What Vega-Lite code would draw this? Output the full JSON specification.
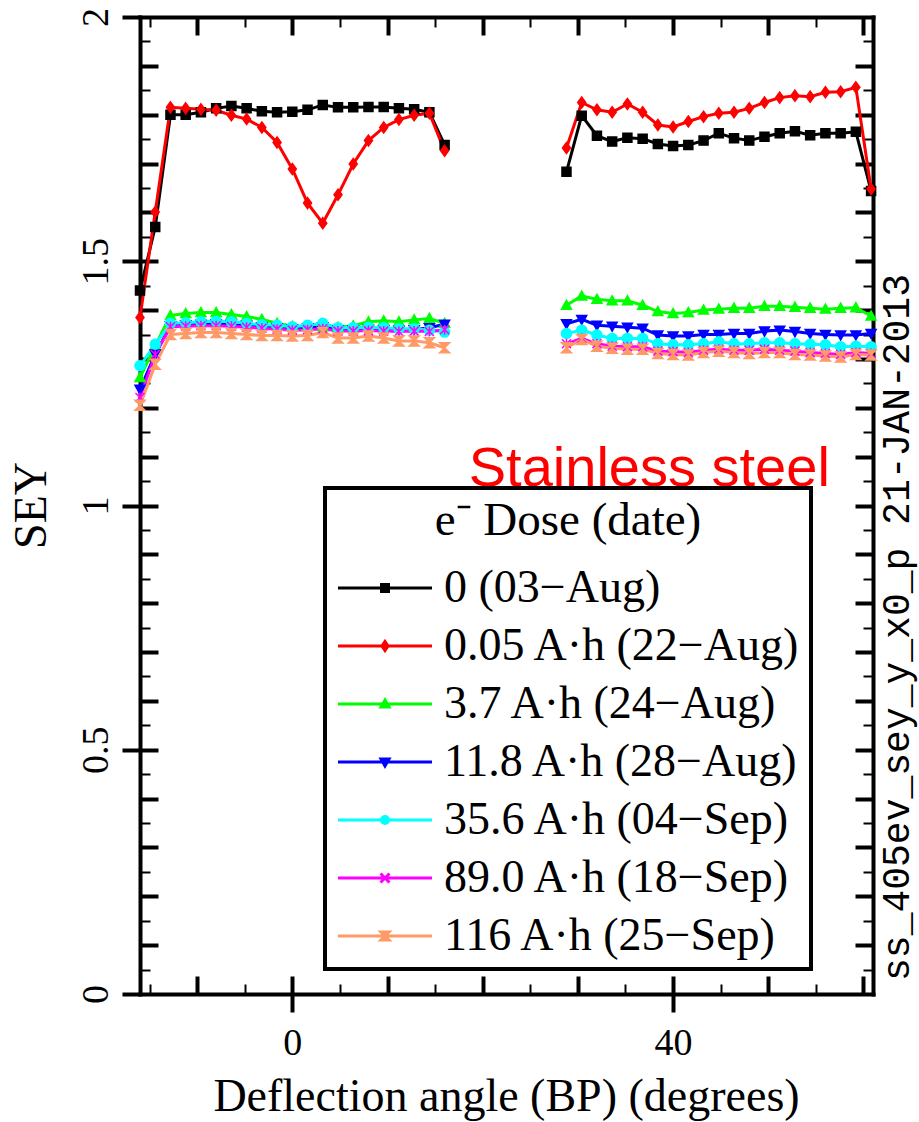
{
  "$schema": "https://vega.github.io/schema/vega-lite/v6.json",
  "width": 733,
  "height": 977,
  "autosize": {"type": "none"},
  "padding": {"left": 140, "top": 17, "right": 46, "bottom": 128},
  "background": "white",
  "config": {
    "view": {"stroke": null},
    "axis": {
      "grid": false,
      "domainColor": "black",
      "domainWidth": 4,
      "domainCap": "square",
      "tickColor": "black",
      "tickWidth": 4,
      "labelColor": "black",
      "titleColor": "black",
      "labelFont": "Liberation Serif",
      "titleFont": "Liberation Serif",
      "titleFontWeight": "normal",
      "labelFlush": false,
      "labelOverlap": false
    },
    "legend": {"strokeWidth": 4}
  },
  "data": {
    "values": [
      {"s":"0 (03−Aug)","g":"L","x":-16,"y":1.44},{"s":"0 (03−Aug)","g":"L","x":-14.4,"y":1.57},{"s":"0 (03−Aug)","g":"L","x":-12.8,"y":1.8},{"s":"0 (03−Aug)","g":"L","x":-11.2,"y":1.8},{"s":"0 (03−Aug)","g":"L","x":-9.6,"y":1.805},{"s":"0 (03−Aug)","g":"L","x":-8,"y":1.813},{"s":"0 (03−Aug)","g":"L","x":-6.4,"y":1.818},{"s":"0 (03−Aug)","g":"L","x":-4.8,"y":1.813},{"s":"0 (03−Aug)","g":"L","x":-3.2,"y":1.807},{"s":"0 (03−Aug)","g":"L","x":-1.6,"y":1.805},{"s":"0 (03−Aug)","g":"L","x":0,"y":1.806},{"s":"0 (03−Aug)","g":"L","x":1.6,"y":1.81},{"s":"0 (03−Aug)","g":"L","x":3.2,"y":1.82},{"s":"0 (03−Aug)","g":"L","x":4.8,"y":1.815},{"s":"0 (03−Aug)","g":"L","x":6.4,"y":1.815},{"s":"0 (03−Aug)","g":"L","x":8,"y":1.816},{"s":"0 (03−Aug)","g":"L","x":9.6,"y":1.816},{"s":"0 (03−Aug)","g":"L","x":11.2,"y":1.813},{"s":"0 (03−Aug)","g":"L","x":12.8,"y":1.811},{"s":"0 (03−Aug)","g":"L","x":14.4,"y":1.805},{"s":"0 (03−Aug)","g":"L","x":16,"y":1.738},
      {"s":"0 (03−Aug)","g":"R","x":28.8,"y":1.683},{"s":"0 (03−Aug)","g":"R","x":30.4,"y":1.798},{"s":"0 (03−Aug)","g":"R","x":32,"y":1.757},{"s":"0 (03−Aug)","g":"R","x":33.6,"y":1.745},{"s":"0 (03−Aug)","g":"R","x":35.2,"y":1.753},{"s":"0 (03−Aug)","g":"R","x":36.8,"y":1.751},{"s":"0 (03−Aug)","g":"R","x":38.4,"y":1.74},{"s":"0 (03−Aug)","g":"R","x":40,"y":1.736},{"s":"0 (03−Aug)","g":"R","x":41.6,"y":1.738},{"s":"0 (03−Aug)","g":"R","x":43.2,"y":1.747},{"s":"0 (03−Aug)","g":"R","x":44.8,"y":1.762},{"s":"0 (03−Aug)","g":"R","x":46.4,"y":1.752},{"s":"0 (03−Aug)","g":"R","x":48,"y":1.747},{"s":"0 (03−Aug)","g":"R","x":49.6,"y":1.755},{"s":"0 (03−Aug)","g":"R","x":51.2,"y":1.762},{"s":"0 (03−Aug)","g":"R","x":52.8,"y":1.766},{"s":"0 (03−Aug)","g":"R","x":54.4,"y":1.758},{"s":"0 (03−Aug)","g":"R","x":56,"y":1.762},{"s":"0 (03−Aug)","g":"R","x":57.6,"y":1.762},{"s":"0 (03−Aug)","g":"R","x":59.2,"y":1.765},{"s":"0 (03−Aug)","g":"R","x":60.8,"y":1.644},
      {"s":"0.05 A·h (22−Aug)","g":"L","x":-16,"y":1.385},{"s":"0.05 A·h (22−Aug)","g":"L","x":-14.4,"y":1.601},{"s":"0.05 A·h (22−Aug)","g":"L","x":-12.8,"y":1.815},{"s":"0.05 A·h (22−Aug)","g":"L","x":-11.2,"y":1.813},{"s":"0.05 A·h (22−Aug)","g":"L","x":-9.6,"y":1.811},{"s":"0.05 A·h (22−Aug)","g":"L","x":-8,"y":1.809},{"s":"0.05 A·h (22−Aug)","g":"L","x":-6.4,"y":1.799},{"s":"0.05 A·h (22−Aug)","g":"L","x":-4.8,"y":1.791},{"s":"0.05 A·h (22−Aug)","g":"L","x":-3.2,"y":1.774},{"s":"0.05 A·h (22−Aug)","g":"L","x":-1.6,"y":1.743},{"s":"0.05 A·h (22−Aug)","g":"L","x":0,"y":1.689},{"s":"0.05 A·h (22−Aug)","g":"L","x":1.6,"y":1.619},{"s":"0.05 A·h (22−Aug)","g":"L","x":3.2,"y":1.578},{"s":"0.05 A·h (22−Aug)","g":"L","x":4.8,"y":1.636},{"s":"0.05 A·h (22−Aug)","g":"L","x":6.4,"y":1.699},{"s":"0.05 A·h (22−Aug)","g":"L","x":8,"y":1.747},{"s":"0.05 A·h (22−Aug)","g":"L","x":9.6,"y":1.774},{"s":"0.05 A·h (22−Aug)","g":"L","x":11.2,"y":1.79},{"s":"0.05 A·h (22−Aug)","g":"L","x":12.8,"y":1.799},{"s":"0.05 A·h (22−Aug)","g":"L","x":14.4,"y":1.803},{"s":"0.05 A·h (22−Aug)","g":"L","x":16,"y":1.726},
      {"s":"0.05 A·h (22−Aug)","g":"R","x":28.8,"y":1.732},{"s":"0.05 A·h (22−Aug)","g":"R","x":30.4,"y":1.825},{"s":"0.05 A·h (22−Aug)","g":"R","x":32,"y":1.81},{"s":"0.05 A·h (22−Aug)","g":"R","x":33.6,"y":1.805},{"s":"0.05 A·h (22−Aug)","g":"R","x":35.2,"y":1.822},{"s":"0.05 A·h (22−Aug)","g":"R","x":36.8,"y":1.805},{"s":"0.05 A·h (22−Aug)","g":"R","x":38.4,"y":1.779},{"s":"0.05 A·h (22−Aug)","g":"R","x":40,"y":1.775},{"s":"0.05 A·h (22−Aug)","g":"R","x":41.6,"y":1.786},{"s":"0.05 A·h (22−Aug)","g":"R","x":43.2,"y":1.796},{"s":"0.05 A·h (22−Aug)","g":"R","x":44.8,"y":1.803},{"s":"0.05 A·h (22−Aug)","g":"R","x":46.4,"y":1.805},{"s":"0.05 A·h (22−Aug)","g":"R","x":48,"y":1.813},{"s":"0.05 A·h (22−Aug)","g":"R","x":49.6,"y":1.825},{"s":"0.05 A·h (22−Aug)","g":"R","x":51.2,"y":1.835},{"s":"0.05 A·h (22−Aug)","g":"R","x":52.8,"y":1.839},{"s":"0.05 A·h (22−Aug)","g":"R","x":54.4,"y":1.837},{"s":"0.05 A·h (22−Aug)","g":"R","x":56,"y":1.846},{"s":"0.05 A·h (22−Aug)","g":"R","x":57.6,"y":1.847},{"s":"0.05 A·h (22−Aug)","g":"R","x":59.2,"y":1.856},{"s":"0.05 A·h (22−Aug)","g":"R","x":60.8,"y":1.648},
      {"s":"3.7 A·h (24−Aug)","g":"L","x":-16,"y":1.262},{"s":"3.7 A·h (24−Aug)","g":"L","x":-14.4,"y":1.327},{"s":"3.7 A·h (24−Aug)","g":"L","x":-12.8,"y":1.389},{"s":"3.7 A·h (24−Aug)","g":"L","x":-11.2,"y":1.393},{"s":"3.7 A·h (24−Aug)","g":"L","x":-9.6,"y":1.395},{"s":"3.7 A·h (24−Aug)","g":"L","x":-8,"y":1.395},{"s":"3.7 A·h (24−Aug)","g":"L","x":-6.4,"y":1.391},{"s":"3.7 A·h (24−Aug)","g":"L","x":-4.8,"y":1.387},{"s":"3.7 A·h (24−Aug)","g":"L","x":-3.2,"y":1.381},{"s":"3.7 A·h (24−Aug)","g":"L","x":-1.6,"y":1.373},{"s":"3.7 A·h (24−Aug)","g":"L","x":0,"y":1.367},{"s":"3.7 A·h (24−Aug)","g":"L","x":1.6,"y":1.366},{"s":"3.7 A·h (24−Aug)","g":"L","x":3.2,"y":1.366},{"s":"3.7 A·h (24−Aug)","g":"L","x":4.8,"y":1.365},{"s":"3.7 A·h (24−Aug)","g":"L","x":6.4,"y":1.368},{"s":"3.7 A·h (24−Aug)","g":"L","x":8,"y":1.376},{"s":"3.7 A·h (24−Aug)","g":"L","x":9.6,"y":1.378},{"s":"3.7 A·h (24−Aug)","g":"L","x":11.2,"y":1.376},{"s":"3.7 A·h (24−Aug)","g":"L","x":12.8,"y":1.38},{"s":"3.7 A·h (24−Aug)","g":"L","x":14.4,"y":1.383},{"s":"3.7 A·h (24−Aug)","g":"L","x":16,"y":1.373},
      {"s":"3.7 A·h (24−Aug)","g":"R","x":28.8,"y":1.41},{"s":"3.7 A·h (24−Aug)","g":"R","x":30.4,"y":1.429},{"s":"3.7 A·h (24−Aug)","g":"R","x":32,"y":1.422},{"s":"3.7 A·h (24−Aug)","g":"R","x":33.6,"y":1.419},{"s":"3.7 A·h (24−Aug)","g":"R","x":35.2,"y":1.419},{"s":"3.7 A·h (24−Aug)","g":"R","x":36.8,"y":1.41},{"s":"3.7 A·h (24−Aug)","g":"R","x":38.4,"y":1.397},{"s":"3.7 A·h (24−Aug)","g":"R","x":40,"y":1.393},{"s":"3.7 A·h (24−Aug)","g":"R","x":41.6,"y":1.395},{"s":"3.7 A·h (24−Aug)","g":"R","x":43.2,"y":1.4},{"s":"3.7 A·h (24−Aug)","g":"R","x":44.8,"y":1.402},{"s":"3.7 A·h (24−Aug)","g":"R","x":46.4,"y":1.404},{"s":"3.7 A·h (24−Aug)","g":"R","x":48,"y":1.404},{"s":"3.7 A·h (24−Aug)","g":"R","x":49.6,"y":1.408},{"s":"3.7 A·h (24−Aug)","g":"R","x":51.2,"y":1.408},{"s":"3.7 A·h (24−Aug)","g":"R","x":52.8,"y":1.406},{"s":"3.7 A·h (24−Aug)","g":"R","x":54.4,"y":1.404},{"s":"3.7 A·h (24−Aug)","g":"R","x":56,"y":1.402},{"s":"3.7 A·h (24−Aug)","g":"R","x":57.6,"y":1.404},{"s":"3.7 A·h (24−Aug)","g":"R","x":59.2,"y":1.405},{"s":"3.7 A·h (24−Aug)","g":"R","x":60.8,"y":1.388},
      {"s":"11.8 A·h (28−Aug)","g":"L","x":-16,"y":1.238},{"s":"11.8 A·h (28−Aug)","g":"L","x":-14.4,"y":1.31},{"s":"11.8 A·h (28−Aug)","g":"L","x":-12.8,"y":1.368},{"s":"11.8 A·h (28−Aug)","g":"L","x":-11.2,"y":1.37},{"s":"11.8 A·h (28−Aug)","g":"L","x":-9.6,"y":1.371},{"s":"11.8 A·h (28−Aug)","g":"L","x":-8,"y":1.372},{"s":"11.8 A·h (28−Aug)","g":"L","x":-6.4,"y":1.371},{"s":"11.8 A·h (28−Aug)","g":"L","x":-4.8,"y":1.369},{"s":"11.8 A·h (28−Aug)","g":"L","x":-3.2,"y":1.366},{"s":"11.8 A·h (28−Aug)","g":"L","x":-1.6,"y":1.364},{"s":"11.8 A·h (28−Aug)","g":"L","x":0,"y":1.362},{"s":"11.8 A·h (28−Aug)","g":"L","x":1.6,"y":1.364},{"s":"11.8 A·h (28−Aug)","g":"L","x":3.2,"y":1.366},{"s":"11.8 A·h (28−Aug)","g":"L","x":4.8,"y":1.36},{"s":"11.8 A·h (28−Aug)","g":"L","x":6.4,"y":1.36},{"s":"11.8 A·h (28−Aug)","g":"L","x":8,"y":1.361},{"s":"11.8 A·h (28−Aug)","g":"L","x":9.6,"y":1.36},{"s":"11.8 A·h (28−Aug)","g":"L","x":11.2,"y":1.359},{"s":"11.8 A·h (28−Aug)","g":"L","x":12.8,"y":1.36},{"s":"11.8 A·h (28−Aug)","g":"L","x":14.4,"y":1.364},{"s":"11.8 A·h (28−Aug)","g":"L","x":16,"y":1.371},
      {"s":"11.8 A·h (28−Aug)","g":"R","x":28.8,"y":1.372},{"s":"11.8 A·h (28−Aug)","g":"R","x":30.4,"y":1.381},{"s":"11.8 A·h (28−Aug)","g":"R","x":32,"y":1.369},{"s":"11.8 A·h (28−Aug)","g":"R","x":33.6,"y":1.367},{"s":"11.8 A·h (28−Aug)","g":"R","x":35.2,"y":1.365},{"s":"11.8 A·h (28−Aug)","g":"R","x":36.8,"y":1.363},{"s":"11.8 A·h (28−Aug)","g":"R","x":38.4,"y":1.349},{"s":"11.8 A·h (28−Aug)","g":"R","x":40,"y":1.347},{"s":"11.8 A·h (28−Aug)","g":"R","x":41.6,"y":1.347},{"s":"11.8 A·h (28−Aug)","g":"R","x":43.2,"y":1.35},{"s":"11.8 A·h (28−Aug)","g":"R","x":44.8,"y":1.35},{"s":"11.8 A·h (28−Aug)","g":"R","x":46.4,"y":1.352},{"s":"11.8 A·h (28−Aug)","g":"R","x":48,"y":1.352},{"s":"11.8 A·h (28−Aug)","g":"R","x":49.6,"y":1.357},{"s":"11.8 A·h (28−Aug)","g":"R","x":51.2,"y":1.359},{"s":"11.8 A·h (28−Aug)","g":"R","x":52.8,"y":1.356},{"s":"11.8 A·h (28−Aug)","g":"R","x":54.4,"y":1.352},{"s":"11.8 A·h (28−Aug)","g":"R","x":56,"y":1.35},{"s":"11.8 A·h (28−Aug)","g":"R","x":57.6,"y":1.349},{"s":"11.8 A·h (28−Aug)","g":"R","x":59.2,"y":1.349},{"s":"11.8 A·h (28−Aug)","g":"R","x":60.8,"y":1.352},
      {"s":"35.6 A·h (04−Sep)","g":"L","x":-16,"y":1.286},{"s":"35.6 A·h (04−Sep)","g":"L","x":-14.4,"y":1.33},{"s":"35.6 A·h (04−Sep)","g":"L","x":-12.8,"y":1.373},{"s":"35.6 A·h (04−Sep)","g":"L","x":-11.2,"y":1.374},{"s":"35.6 A·h (04−Sep)","g":"L","x":-9.6,"y":1.376},{"s":"35.6 A·h (04−Sep)","g":"L","x":-8,"y":1.377},{"s":"35.6 A·h (04−Sep)","g":"L","x":-6.4,"y":1.376},{"s":"35.6 A·h (04−Sep)","g":"L","x":-4.8,"y":1.373},{"s":"35.6 A·h (04−Sep)","g":"L","x":-3.2,"y":1.37},{"s":"35.6 A·h (04−Sep)","g":"L","x":-1.6,"y":1.369},{"s":"35.6 A·h (04−Sep)","g":"L","x":0,"y":1.366},{"s":"35.6 A·h (04−Sep)","g":"L","x":1.6,"y":1.369},{"s":"35.6 A·h (04−Sep)","g":"L","x":3.2,"y":1.373},{"s":"35.6 A·h (04−Sep)","g":"L","x":4.8,"y":1.364},{"s":"35.6 A·h (04−Sep)","g":"L","x":6.4,"y":1.364},{"s":"35.6 A·h (04−Sep)","g":"L","x":8,"y":1.365},{"s":"35.6 A·h (04−Sep)","g":"L","x":9.6,"y":1.364},{"s":"35.6 A·h (04−Sep)","g":"L","x":11.2,"y":1.362},{"s":"35.6 A·h (04−Sep)","g":"L","x":12.8,"y":1.362},{"s":"35.6 A·h (04−Sep)","g":"L","x":14.4,"y":1.359},{"s":"35.6 A·h (04−Sep)","g":"L","x":16,"y":1.355},
      {"s":"35.6 A·h (04−Sep)","g":"R","x":28.8,"y":1.352},{"s":"35.6 A·h (04−Sep)","g":"R","x":30.4,"y":1.359},{"s":"35.6 A·h (04−Sep)","g":"R","x":32,"y":1.349},{"s":"35.6 A·h (04−Sep)","g":"R","x":33.6,"y":1.342},{"s":"35.6 A·h (04−Sep)","g":"R","x":35.2,"y":1.342},{"s":"35.6 A·h (04−Sep)","g":"R","x":36.8,"y":1.342},{"s":"35.6 A·h (04−Sep)","g":"R","x":38.4,"y":1.331},{"s":"35.6 A·h (04−Sep)","g":"R","x":40,"y":1.329},{"s":"35.6 A·h (04−Sep)","g":"R","x":41.6,"y":1.329},{"s":"35.6 A·h (04−Sep)","g":"R","x":43.2,"y":1.331},{"s":"35.6 A·h (04−Sep)","g":"R","x":44.8,"y":1.335},{"s":"35.6 A·h (04−Sep)","g":"R","x":46.4,"y":1.331},{"s":"35.6 A·h (04−Sep)","g":"R","x":48,"y":1.331},{"s":"35.6 A·h (04−Sep)","g":"R","x":49.6,"y":1.333},{"s":"35.6 A·h (04−Sep)","g":"R","x":51.2,"y":1.333},{"s":"35.6 A·h (04−Sep)","g":"R","x":52.8,"y":1.331},{"s":"35.6 A·h (04−Sep)","g":"R","x":54.4,"y":1.33},{"s":"35.6 A·h (04−Sep)","g":"R","x":56,"y":1.329},{"s":"35.6 A·h (04−Sep)","g":"R","x":57.6,"y":1.325},{"s":"35.6 A·h (04−Sep)","g":"R","x":59.2,"y":1.326},{"s":"35.6 A·h (04−Sep)","g":"R","x":60.8,"y":1.325},
      {"s":"89.0 A·h (18−Sep)","g":"L","x":-16,"y":1.221},{"s":"89.0 A·h (18−Sep)","g":"L","x":-14.4,"y":1.309},{"s":"89.0 A·h (18−Sep)","g":"L","x":-12.8,"y":1.366},{"s":"89.0 A·h (18−Sep)","g":"L","x":-11.2,"y":1.367},{"s":"89.0 A·h (18−Sep)","g":"L","x":-9.6,"y":1.368},{"s":"89.0 A·h (18−Sep)","g":"L","x":-8,"y":1.368},{"s":"89.0 A·h (18−Sep)","g":"L","x":-6.4,"y":1.367},{"s":"89.0 A·h (18−Sep)","g":"L","x":-4.8,"y":1.365},{"s":"89.0 A·h (18−Sep)","g":"L","x":-3.2,"y":1.363},{"s":"89.0 A·h (18−Sep)","g":"L","x":-1.6,"y":1.361},{"s":"89.0 A·h (18−Sep)","g":"L","x":0,"y":1.359},{"s":"89.0 A·h (18−Sep)","g":"L","x":1.6,"y":1.36},{"s":"89.0 A·h (18−Sep)","g":"L","x":3.2,"y":1.362},{"s":"89.0 A·h (18−Sep)","g":"L","x":4.8,"y":1.357},{"s":"89.0 A·h (18−Sep)","g":"L","x":6.4,"y":1.357},{"s":"89.0 A·h (18−Sep)","g":"L","x":8,"y":1.358},{"s":"89.0 A·h (18−Sep)","g":"L","x":9.6,"y":1.357},{"s":"89.0 A·h (18−Sep)","g":"L","x":11.2,"y":1.356},{"s":"89.0 A·h (18−Sep)","g":"L","x":12.8,"y":1.357},{"s":"89.0 A·h (18−Sep)","g":"L","x":14.4,"y":1.356},{"s":"89.0 A·h (18−Sep)","g":"L","x":16,"y":1.36},
      {"s":"89.0 A·h (18−Sep)","g":"R","x":28.8,"y":1.331},{"s":"89.0 A·h (18−Sep)","g":"R","x":30.4,"y":1.342},{"s":"89.0 A·h (18−Sep)","g":"R","x":32,"y":1.331},{"s":"89.0 A·h (18−Sep)","g":"R","x":33.6,"y":1.326},{"s":"89.0 A·h (18−Sep)","g":"R","x":35.2,"y":1.325},{"s":"89.0 A·h (18−Sep)","g":"R","x":36.8,"y":1.325},{"s":"89.0 A·h (18−Sep)","g":"R","x":38.4,"y":1.316},{"s":"89.0 A·h (18−Sep)","g":"R","x":40,"y":1.315},{"s":"89.0 A·h (18−Sep)","g":"R","x":41.6,"y":1.313},{"s":"89.0 A·h (18−Sep)","g":"R","x":43.2,"y":1.318},{"s":"89.0 A·h (18−Sep)","g":"R","x":44.8,"y":1.32},{"s":"89.0 A·h (18−Sep)","g":"R","x":46.4,"y":1.318},{"s":"89.0 A·h (18−Sep)","g":"R","x":48,"y":1.318},{"s":"89.0 A·h (18−Sep)","g":"R","x":49.6,"y":1.32},{"s":"89.0 A·h (18−Sep)","g":"R","x":51.2,"y":1.318},{"s":"89.0 A·h (18−Sep)","g":"R","x":52.8,"y":1.316},{"s":"89.0 A·h (18−Sep)","g":"R","x":54.4,"y":1.313},{"s":"89.0 A·h (18−Sep)","g":"R","x":56,"y":1.311},{"s":"89.0 A·h (18−Sep)","g":"R","x":57.6,"y":1.309},{"s":"89.0 A·h (18−Sep)","g":"R","x":59.2,"y":1.313},{"s":"89.0 A·h (18−Sep)","g":"R","x":60.8,"y":1.311},
      {"s":"116 A·h (25−Sep)","g":"L","x":-16,"y":1.205},{"s":"116 A·h (25−Sep)","g":"L","x":-14.4,"y":1.289},{"s":"116 A·h (25−Sep)","g":"L","x":-12.8,"y":1.35},{"s":"116 A·h (25−Sep)","g":"L","x":-11.2,"y":1.352},{"s":"116 A·h (25−Sep)","g":"L","x":-9.6,"y":1.354},{"s":"116 A·h (25−Sep)","g":"L","x":-8,"y":1.354},{"s":"116 A·h (25−Sep)","g":"L","x":-6.4,"y":1.352},{"s":"116 A·h (25−Sep)","g":"L","x":-4.8,"y":1.35},{"s":"116 A·h (25−Sep)","g":"L","x":-3.2,"y":1.348},{"s":"116 A·h (25−Sep)","g":"L","x":-1.6,"y":1.348},{"s":"116 A·h (25−Sep)","g":"L","x":0,"y":1.347},{"s":"116 A·h (25−Sep)","g":"L","x":1.6,"y":1.348},{"s":"116 A·h (25−Sep)","g":"L","x":3.2,"y":1.354},{"s":"116 A·h (25−Sep)","g":"L","x":4.8,"y":1.343},{"s":"116 A·h (25−Sep)","g":"L","x":6.4,"y":1.343},{"s":"116 A·h (25−Sep)","g":"L","x":8,"y":1.347},{"s":"116 A·h (25−Sep)","g":"L","x":9.6,"y":1.343},{"s":"116 A·h (25−Sep)","g":"L","x":11.2,"y":1.337},{"s":"116 A·h (25−Sep)","g":"L","x":12.8,"y":1.337},{"s":"116 A·h (25−Sep)","g":"L","x":14.4,"y":1.333},{"s":"116 A·h (25−Sep)","g":"L","x":16,"y":1.323},
      {"s":"116 A·h (25−Sep)","g":"R","x":28.8,"y":1.323},{"s":"116 A·h (25−Sep)","g":"R","x":30.4,"y":1.34},{"s":"116 A·h (25−Sep)","g":"R","x":32,"y":1.326},{"s":"116 A·h (25−Sep)","g":"R","x":33.6,"y":1.322},{"s":"116 A·h (25−Sep)","g":"R","x":35.2,"y":1.32},{"s":"116 A·h (25−Sep)","g":"R","x":36.8,"y":1.32},{"s":"116 A·h (25−Sep)","g":"R","x":38.4,"y":1.311},{"s":"116 A·h (25−Sep)","g":"R","x":40,"y":1.309},{"s":"116 A·h (25−Sep)","g":"R","x":41.6,"y":1.308},{"s":"116 A·h (25−Sep)","g":"R","x":43.2,"y":1.313},{"s":"116 A·h (25−Sep)","g":"R","x":44.8,"y":1.316},{"s":"116 A·h (25−Sep)","g":"R","x":46.4,"y":1.313},{"s":"116 A·h (25−Sep)","g":"R","x":48,"y":1.311},{"s":"116 A·h (25−Sep)","g":"R","x":49.6,"y":1.313},{"s":"116 A·h (25−Sep)","g":"R","x":51.2,"y":1.313},{"s":"116 A·h (25−Sep)","g":"R","x":52.8,"y":1.309},{"s":"116 A·h (25−Sep)","g":"R","x":54.4,"y":1.308},{"s":"116 A·h (25−Sep)","g":"R","x":56,"y":1.306},{"s":"116 A·h (25−Sep)","g":"R","x":57.6,"y":1.304},{"s":"116 A·h (25−Sep)","g":"R","x":59.2,"y":1.309},{"s":"116 A·h (25−Sep)","g":"R","x":60.8,"y":1.308}
    ]
  },
  "resolve": {
    "scale": {"color": "independent", "stroke": "independent", "shape": "independent"},
    "axis": {"x": "independent", "y": "independent"}
  },
  "layer": [
    {
      "mark": {"type": "line", "strokeWidth": 3},
      "encoding": {
        "x": {"field": "x", "type": "quantitative", "scale": {"domain": [-16, 61], "nice": false, "zero": false},
          "axis": {"orient": "bottom", "values": [0, 40], "format": "d", "tickSize": 18, "domain": true, "labels": true, "labelFontSize": 38, "labelPadding": 12,
            "title": "Deflection angle (BP) (degrees)", "titleFontSize": 46, "titleX": 366, "titleY": 116, "titleAlign": "center", "titleBaseline": "alphabetic"}},
        "y": {"field": "y", "type": "quantitative", "scale": {"domain": [0, 2], "nice": false, "zero": false},
          "axis": {"orient": "left", "values": [0, 0.5, 1, 1.5, 2], "format": "~g", "tickSize": 18, "domain": true, "labels": true, "labelFontSize": 38, "labelPadding": 15, "labelAngle": 270, "labelAlign": "center", "labelBaseline": "alphabetic",
            "title": "SEY", "titleFontSize": 46, "titleAngle": 270, "titleX": -95, "titleY": 488, "titleAlign": "center", "titleBaseline": "alphabetic"}},
        "color": {"field": "s", "type": "nominal", "legend": null,
          "scale": {"domain": ["0 (03−Aug)", "0.05 A·h (22−Aug)", "3.7 A·h (24−Aug)", "11.8 A·h (28−Aug)", "35.6 A·h (04−Sep)", "89.0 A·h (18−Sep)", "116 A·h (25−Sep)"],
            "range": ["#000000", "#ff0000", "#00ff00", "#0000ff", "#00ffff", "#ff00ff", "#ff9966"]}},
        "detail": {"field": "g"}
      }
    },
    {
      "mark": {"type": "point", "filled": true, "size": 100, "opacity": 1, "strokeWidth": 1.5},
      "encoding": {
        "x": {"field": "x", "type": "quantitative", "scale": {"domain": [-16, 61], "nice": false, "zero": false},
          "axis": {"orient": "bottom", "values": [-10, 0, 10, 20, 30, 40, 50, 60], "tickSize": {"expr": "-18"}, "domain": false, "labels": false, "title": null}},
        "y": {"field": "y", "type": "quantitative", "scale": {"domain": [0, 2], "nice": false, "zero": false},
          "axis": {"orient": "left", "values": [0.1, 0.2, 0.3, 0.4, 0.5, 0.6, 0.7, 0.8, 0.9, 1, 1.1, 1.2, 1.3, 1.4, 1.5, 1.6, 1.7, 1.8, 1.9], "tickSize": {"expr": "-18"}, "domain": false, "labels": false, "title": null}},
        "color": {"field": "s", "type": "nominal", "legend": null,
          "scale": {"domain": ["0 (03−Aug)", "0.05 A·h (22−Aug)", "3.7 A·h (24−Aug)", "11.8 A·h (28−Aug)", "35.6 A·h (04−Sep)", "89.0 A·h (18−Sep)", "116 A·h (25−Sep)"],
            "range": ["#000000", "#ff0000", "#00ff00", "#0000ff", "#00ffff", "#ff00ff", "#ff9966"]}},
        "stroke": {"field": "s", "type": "nominal", "legend": null,
          "scale": {"domain": ["0 (03−Aug)", "0.05 A·h (22−Aug)", "3.7 A·h (24−Aug)", "11.8 A·h (28−Aug)", "35.6 A·h (04−Sep)", "89.0 A·h (18−Sep)", "116 A·h (25−Sep)"],
            "range": ["#000000", "#ff0000", "#00ff00", "#0000ff", "#00ffff", "#ff00ff", "#ff9966"]}},
        "shape": {"field": "s", "type": "nominal", "legend": null,
          "scale": {"domain": ["0 (03−Aug)", "0.05 A·h (22−Aug)", "3.7 A·h (24−Aug)", "11.8 A·h (28−Aug)", "35.6 A·h (04−Sep)", "89.0 A·h (18−Sep)", "116 A·h (25−Sep)"],
            "range": ["M-0.9,-0.9L0.9,-0.9L0.9,0.9L-0.9,0.9Z", "M0,-1.1L0.8,0L0,1.1L-0.8,0Z", "M-1,0.8L1,0.8L0,-1Z", "M-1,-0.8L1,-0.8L0,1Z", "M-1,0A1,1 0 1,0 1,0A1,1 0 1,0 -1,0Z", "M-0.9,-0.9L0.9,0.9M-0.9,0.9L0.9,-0.9M0,-1L0,1", "M-1,-1L1,-1L-1,1L1,1Z"]}}
      }
    },
    {
      "data": {"values": [{"label": "Stainless steel"}]},
      "mark": {"type": "text", "font": "Liberation Sans", "fontSize": 56, "color": "#ff0000", "align": "center", "baseline": "alphabetic"},
      "encoding": {
        "text": {"field": "label"},
        "x": {"datum": 37.5, "type": "quantitative", "scale": {"domain": [-16, 61], "nice": false, "zero": false},
          "axis": {"orient": "bottom", "values": [-15, -5, 5, 15, 25, 35, 45, 55], "tickSize": {"expr": "-10"}, "tickWidth": 2, "domain": false, "labels": false, "title": null}},
        "y": {"datum": 1.04, "type": "quantitative", "scale": {"domain": [0, 2], "nice": false, "zero": false},
          "axis": {"orient": "left", "values": [0.05, 0.15, 0.25, 0.35, 0.45, 0.55, 0.65, 0.75, 0.85, 0.95, 1.05, 1.15, 1.25, 1.35, 1.45, 1.55, 1.65, 1.75, 1.85, 1.95], "tickSize": {"expr": "-10"}, "tickWidth": 2, "domain": false, "labels": false, "title": null}}
      }
    },
    {
      "data": {"values": [{"s": "0 (03−Aug)"}]},
      "mark": {"type": "point", "filled": true, "opacity": 0},
      "encoding": {
        "x": {"datum": 0, "type": "quantitative", "scale": {"domain": [-16, 61], "nice": false, "zero": false},
          "axis": {"orient": "top", "values": [-10, 0, 10, 20, 30, 40, 50, 60], "tickSize": {"expr": "-18"}, "domain": true, "labels": false, "title": null}},
        "y": {"datum": 1, "type": "quantitative", "scale": {"domain": [0, 2], "nice": false, "zero": false},
          "axis": {"orient": "right", "values": [0.1, 0.2, 0.3, 0.4, 0.5, 0.6, 0.7, 0.8, 0.9, 1, 1.1, 1.2, 1.3, 1.4, 1.5, 1.6, 1.7, 1.8, 1.9], "tickSize": {"expr": "-18"}, "domain": true, "labels": false,
            "title": "ss_405ev_sey_y_x0_p 21-JAN-2013", "titleFont": "Liberation Mono", "titleFontSize": 38, "titleAngle": 270, "titleX": 35, "titleY": 610, "titleAlign": "center", "titleBaseline": "alphabetic"}},
        "color": {"field": "s", "type": "nominal",
          "scale": {"domain": ["0 (03−Aug)", "0.05 A·h (22−Aug)", "3.7 A·h (24−Aug)", "11.8 A·h (28−Aug)", "35.6 A·h (04−Sep)", "89.0 A·h (18−Sep)", "116 A·h (25−Sep)"],
            "range": ["#000000", "#ff0000", "#00ff00", "#0000ff", "#00ffff", "#ff00ff", "#ff9966"]},
          "legend": {"title": "e⁻ Dose (date)", "orient": "none", "legendX": 185, "legendY": 471, "padding": 10, "strokeColor": "black", "fillColor": "white",
            "titleFont": "Liberation Serif", "titleFontSize": 47, "titleFontWeight": "normal", "titleColor": "black", "titleAnchor": "middle", "titlePadding": 20, "titleLimit": 2000,
            "labelFont": "Liberation Serif", "labelFontSize": 46, "labelColor": "black", "labelLimit": 2000, "symbolSize": 100, "symbolStrokeWidth": 3, "symbolOpacity": 1, "symbolOffset": 27, "labelOffset": 36, "rowPadding": 12}},
        "stroke": {"field": "s", "type": "nominal",
          "scale": {"domain": ["0 (03−Aug)", "0.05 A·h (22−Aug)", "3.7 A·h (24−Aug)", "11.8 A·h (28−Aug)", "35.6 A·h (04−Sep)", "89.0 A·h (18−Sep)", "116 A·h (25−Sep)"],
            "range": ["#000000", "#ff0000", "#00ff00", "#0000ff", "#00ffff", "#ff00ff", "#ff9966"]},
          "legend": {"title": "e⁻ Dose (date)", "orient": "none", "legendX": 185, "legendY": 471, "padding": 10, "strokeColor": "black", "fillColor": "white",
            "titleFont": "Liberation Serif", "titleFontSize": 47, "titleFontWeight": "normal", "titleColor": "black", "titleAnchor": "middle", "titlePadding": 20, "titleLimit": 2000,
            "labelFont": "Liberation Serif", "labelFontSize": 46, "labelColor": "black", "labelLimit": 2000, "symbolSize": 100, "symbolStrokeWidth": 3, "symbolOpacity": 1, "symbolOffset": 27, "labelOffset": 36, "rowPadding": 12}},
        "shape": {"field": "s", "type": "nominal",
          "scale": {"domain": ["0 (03−Aug)", "0.05 A·h (22−Aug)", "3.7 A·h (24−Aug)", "11.8 A·h (28−Aug)", "35.6 A·h (04−Sep)", "89.0 A·h (18−Sep)", "116 A·h (25−Sep)"],
            "range": ["M-9.4,0L9.4,0M-0.7,-0.7L0.7,-0.7L0.7,0.7L-0.7,0.7Z", "M-9.4,0L9.4,0M0,-0.9L0.6,0L0,0.9L-0.6,0Z", "M-9.4,0L9.4,0M-0.8,0.6L0.8,0.6L0,-0.8Z", "M-9.4,0L9.4,0M-0.8,-0.6L0.8,-0.6L0,0.8Z", "M-9.4,0L9.4,0M-0.7,0A0.7,0.7 0 1,0 0.7,0A0.7,0.7 0 1,0 -0.7,0Z", "M-9.4,0L9.4,0M-0.9,-0.9L0.9,0.9M-0.9,0.9L0.9,-0.9", "M-9.4,0L9.4,0M-0.8,-0.8L0.8,-0.8L-0.8,0.8L0.8,0.8Z"]},
          "legend": {"title": "e⁻ Dose (date)", "orient": "none", "legendX": 185, "legendY": 471, "padding": 10, "strokeColor": "black", "fillColor": "white",
            "titleFont": "Liberation Serif", "titleFontSize": 47, "titleFontWeight": "normal", "titleColor": "black", "titleAnchor": "middle", "titlePadding": 20, "titleLimit": 2000,
            "labelFont": "Liberation Serif", "labelFontSize": 46, "labelColor": "black", "labelLimit": 2000, "symbolSize": 100, "symbolStrokeWidth": 3, "symbolOpacity": 1, "symbolOffset": 27, "labelOffset": 36, "rowPadding": 12}}
      }
    },
    {
      "data": {"values": [{"a": 0}]},
      "mark": {"type": "point", "opacity": 0},
      "encoding": {
        "x": {"datum": 0, "type": "quantitative", "scale": {"domain": [-16, 61], "nice": false, "zero": false},
          "axis": {"orient": "top", "values": [-15, -5, 5, 15, 25, 35, 45, 55], "tickSize": {"expr": "-10"}, "tickWidth": 2, "domain": false, "labels": false, "title": null}},
        "y": {"datum": 1, "type": "quantitative", "scale": {"domain": [0, 2], "nice": false, "zero": false},
          "axis": {"orient": "right", "values": [0.05, 0.15, 0.25, 0.35, 0.45, 0.55, 0.65, 0.75, 0.85, 0.95, 1.05, 1.15, 1.25, 1.35, 1.45, 1.55, 1.65, 1.75, 1.85, 1.95], "tickSize": {"expr": "-10"}, "tickWidth": 2, "domain": false, "labels": false, "title": null}}
      }
    }
  ]
}
